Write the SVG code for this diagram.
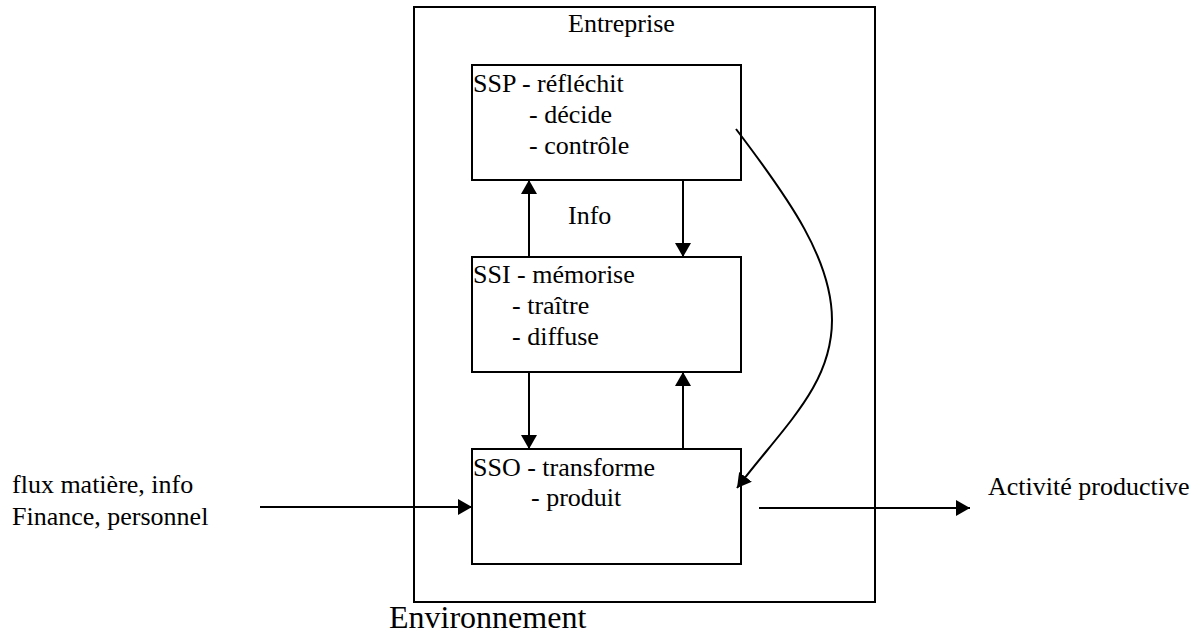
<svg xmlns="http://www.w3.org/2000/svg" width="1201" height="639" viewBox="0 0 1201 639">
<style>
text{font-family:'Liberation Serif','DejaVu Serif',serif;font-size:26px;fill:#000}
.box{fill:#fff;stroke:#000;stroke-width:2}
.ln{fill:none;stroke:#000;stroke-width:2}
</style>
<defs>
<marker id="ah" viewBox="0 0 14 16" refX="14" refY="8" markerWidth="14" markerHeight="16" markerUnits="userSpaceOnUse" orient="auto">
<path d="M0,0 L14,8 L0,16 Z" fill="#000"/>
</marker>
</defs>
<rect width="1201" height="639" fill="#fff"/>
<g id="entreprise">
<rect class="box" x="414" y="7" width="461" height="595"/>
<text x="568" y="32">Entreprise</text>
</g>
<g id="ssp">
<rect class="box" x="472" y="65" width="269" height="115"/>
<text x="473" y="92">SSP - réfléchit</text>
<text x="529" y="123">- décide</text>
<text x="529" y="154">- contrôle</text>
</g>
<g id="ssi">
<rect class="box" x="472" y="257" width="269" height="115"/>
<text x="473" y="283">SSI - mémorise</text>
<text x="512" y="314">- traître</text>
<text x="512" y="345">- diffuse</text>
</g>
<g id="sso">
<rect class="box" x="472" y="449" width="269" height="115"/>
<text x="473" y="476">SSO - transforme</text>
<text x="531" y="506">- produit</text>
</g>
<g id="labels">
<text x="568" y="224">Info</text>
<text x="12" y="493">flux matière, info</text>
<text x="12" y="525">Finance, personnel</text>
<text x="988" y="495">Activité productive</text>
<text x="389" y="628" style="font-size:32px">Environnement</text>
</g>
<g id="connectors">
<line class="ln" x1="529" y1="257" x2="529" y2="180" marker-end="url(#ah)"/>
<line class="ln" x1="683" y1="180" x2="683" y2="257" marker-end="url(#ah)"/>
<line class="ln" x1="529" y1="372" x2="529" y2="449" marker-end="url(#ah)"/>
<line class="ln" x1="683" y1="449" x2="683" y2="372" marker-end="url(#ah)"/>
<line class="ln" x1="260" y1="507" x2="472" y2="507" marker-end="url(#ah)"/>
<line class="ln" x1="759" y1="508" x2="970" y2="508" marker-end="url(#ah)"/>
<path class="ln" d="M736,129 C790,200 832,260 832,320 C832,385 785,425 737,488" marker-end="url(#ah)"/>
</g>
</svg>
